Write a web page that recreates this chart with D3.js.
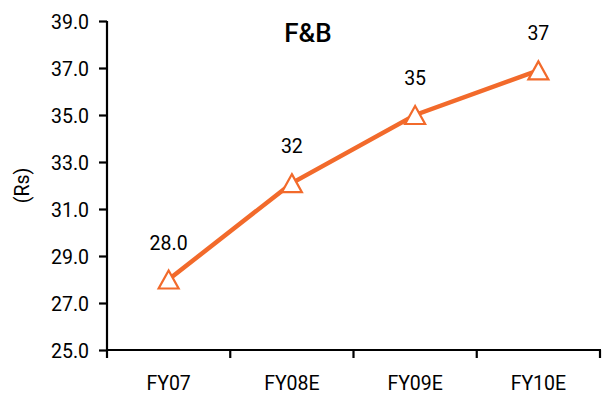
<!DOCTYPE html>
<html>
<head>
<meta charset="utf-8">
<script src="https://cdn.jsdelivr.net/npm/d3@7/dist/d3.min.js"></script>
<style>
  html, body { margin: 0; padding: 0; background: #fff; }
  svg { display: block; }
  text { font-family: Roboto, "DejaVu Sans", sans-serif; fill: #000; }
</style>
</head>
<body>
<svg id="chart" width="605" height="395"></svg>
<script>
// F&B per-unit value, Rs
const categories = ["FY07", "FY08E", "FY09E", "FY10E"];
const values = [28.0, 32.1, 35.0, 36.9];
const labelFormats = [".1f", ".0f", ".0f", ".0f"];
const yTicks = [25, 27, 29, 31, 33, 35, 37, 39];
const title = "F&B";
const yTitle = "(Rs)";

const svg = d3.select("#chart");
const orange = "#F26A2B";
const fontSize = "19.5px";

const x = d3.scaleBand().domain(categories).range([107, 600]).padding(0);
const y = d3.scaleLinear().domain([25, 39]).range([350, 21]);
const cx = c => x(c) + x.bandwidth() / 2;

// Y axis
const yAxis = svg.append("g")
  .attr("transform", "translate(107,0)")
  .call(d3.axisLeft(y).tickValues(yTicks).tickFormat(d3.format(".1f")).tickSize(8).tickPadding(10));
yAxis.select(".domain").attr("stroke", "#000").attr("stroke-width", 2.2).attr("d", `M0,${y(39)}V${y(25) + 1}`);
yAxis.selectAll(".tick line").attr("stroke", "#000").attr("stroke-width", 2.2);
yAxis.selectAll(".tick text").style("font-size", fontSize).attr("fill", "#000").attr("dy", "0.36em");

// X axis: line and category boundary ticks
const xg = svg.append("g");
xg.append("line")
  .attr("x1", 106).attr("x2", 601)
  .attr("y1", y(25)).attr("y2", y(25))
  .attr("stroke", "#000").attr("stroke-width", 2.2);
const bounds = categories.map(c => x(c)).concat([x(categories[categories.length - 1]) + x.bandwidth()]);
xg.selectAll("line.bt").data(bounds).join("line")
  .attr("class", "bt")
  .attr("x1", d => d).attr("x2", d => d)
  .attr("y1", y(25)).attr("y2", y(25) + 8)
  .attr("stroke", "#000").attr("stroke-width", 2.2);
xg.selectAll("text.cat").data(categories).join("text")
  .attr("class", "cat")
  .attr("x", d => cx(d)).attr("y", 390)
  .attr("text-anchor", "middle")
  .style("font-size", fontSize)
  .text(d => d);

// Y title
svg.append("text")
  .attr("transform", `translate(29,${(y(25) + y(39)) / 2}) rotate(-90)`)
  .attr("text-anchor", "middle")
  .style("font-size", fontSize)
  .text(yTitle);

// Chart title
svg.append("text")
  .attr("x", 308).attr("y", 42)
  .attr("text-anchor", "middle")
  .style("font-size", "26px").style("font-weight", "500")
  .text(title);

// Series line
const pts = categories.map((c, i) => ({ c, v: values[i], f: labelFormats[i] }));
svg.append("path")
  .datum(pts)
  .attr("fill", "none")
  .attr("stroke", orange)
  .attr("stroke-width", 4.5)
  .attr("d", d3.line().x(d => cx(d.c)).y(d => y(d.v)));

// Triangle markers, centred on their bounding box
const triPath = "M0,-9L10,9L-10,9Z";
svg.selectAll("path.mk").data(pts).join("path")
  .attr("class", "mk")
  .attr("transform", d => `translate(${cx(d.c)},${y(d.v)})`)
  .attr("d", triPath)
  .attr("fill", "#fff")
  .attr("stroke", orange)
  .attr("stroke-width", 2.2)
  .attr("stroke-linejoin", "miter");

// Data labels
svg.selectAll("text.lbl").data(pts).join("text")
  .attr("class", "lbl")
  .attr("x", d => cx(d.c)).attr("y", d => y(d.v) - 30)
  .attr("text-anchor", "middle")
  .style("font-size", fontSize)
  .text(d => d3.format(d.f)(d.v));
</script>
</body>
</html>
